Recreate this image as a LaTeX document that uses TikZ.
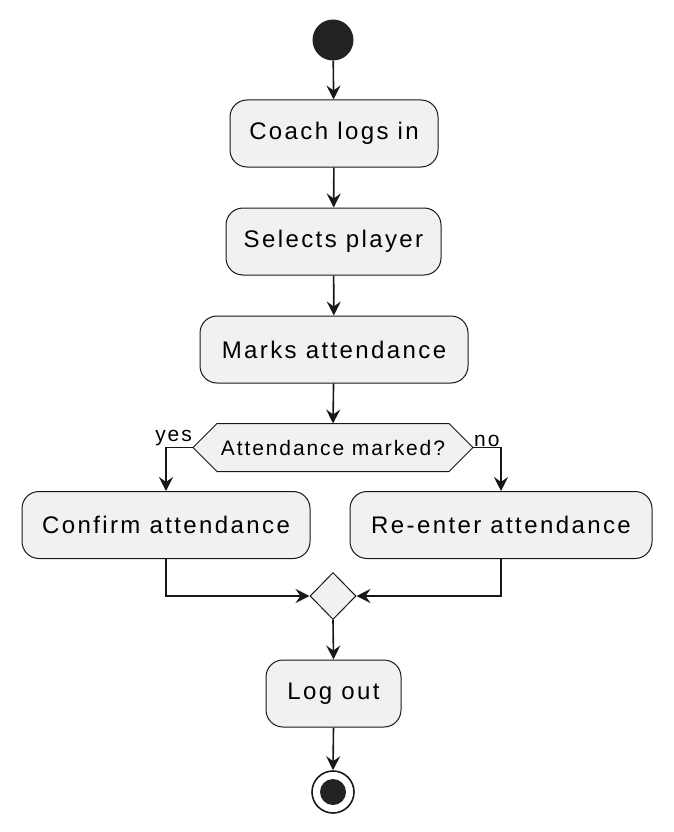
\documentclass[tikz,border=0pt]{standalone}
\usepackage{fontspec}
\setmainfont{Liberation Sans}
\newfontfamily\boxfont{Liberation Sans}[LetterSpace=10]
\newfontfamily\decfont{Liberation Sans}[LetterSpace=9]
\usetikzlibrary{arrows.meta,shapes.geometric}
\definecolor{boxfill}{HTML}{F1F1F1}
\definecolor{lineclr}{HTML}{181818}
\definecolor{dotclr}{HTML}{222222}
\tikzset{
  actbox/.style={draw=lineclr, fill=boxfill, line width=1pt, rounded corners=17pt,
    minimum height=67pt, inner sep=0pt, font=\boxfont\fontsize{24}{28}\selectfont},
  arr/.style={draw=lineclr, line width=1.6pt, -{Stealth[length=14pt,width=14pt,inset=5pt]}},
  lbl/.style={font=\decfont\fontsize{21}{25}\selectfont, inner sep=1pt}
}
\begin{document}
\begin{tikzpicture}[x=1pt,y=-1pt]
\useasboundingbox (0,0) rectangle (674,832);
\node[circle, fill=dotclr, minimum size=41pt, inner sep=0pt] (start) at (333,40) {};
\node[actbox, minimum width=208pt] (n1) at (334,133.5) {Coach logs in};
\node[actbox, minimum width=215pt] (n2) at (333.5,241.5) {Selects player};
\node[actbox, minimum width=268pt] (n3) at (334,349.5) {Marks attendance};
\coordinate (decW) at (193,447.5);
\coordinate (decE) at (473,447.5);
\coordinate (decN) at (333,423.5);
\draw[lineclr, fill=boxfill, line width=1pt]
  (decW) -- (217,423.5) -- (449,423.5) -- (decE) -- (449,471.5) -- (217,471.5) -- cycle;
\node[font=\decfont\fontsize{21}{25}\selectfont, inner sep=0pt] (dectext) at (333,447.5) {Attendance marked?};
\node[actbox, minimum width=288pt] (conf) at (166,525) {Confirm attendance};
\node[actbox, minimum width=302pt] (reen) at (501,525) {Re-enter attendance};
\node[diamond, aspect=1, draw=lineclr, fill=boxfill, line width=1pt,
  minimum width=46pt, minimum height=47pt, inner sep=0pt] (merge) at (333,596) {};
\node[actbox, minimum width=135pt] (logout) at (333.5,693.5) {Log out};
\node[circle, draw=lineclr, line width=1.6pt, fill=white, minimum size=42pt, inner sep=0pt] (end) at (333,792) {};
\node[circle, fill=dotclr, minimum size=26pt, inner sep=0pt] (endin) at (end.center) {};
\draw[arr] (start) -- (n1);
\draw[arr] (n1) -- (n2);
\draw[arr] (n2) -- (n3);
\draw[arr] (n3) -- (decN);
\draw[arr] (decW) -| (conf.north);
\draw[arr] (decE) -| (reen.north);
\node[lbl, anchor=south east] (yes) at (decW) {yes};
\node[lbl, anchor=south west] (no) at (decE) {no};
\draw[arr] (conf.south) |- (merge.west);
\draw[arr] (reen.south) |- (merge.east);
\draw[arr] (merge.south) -- (logout.north);
\draw[arr] (logout.south) -- (end.north);
\end{tikzpicture}
\end{document}
